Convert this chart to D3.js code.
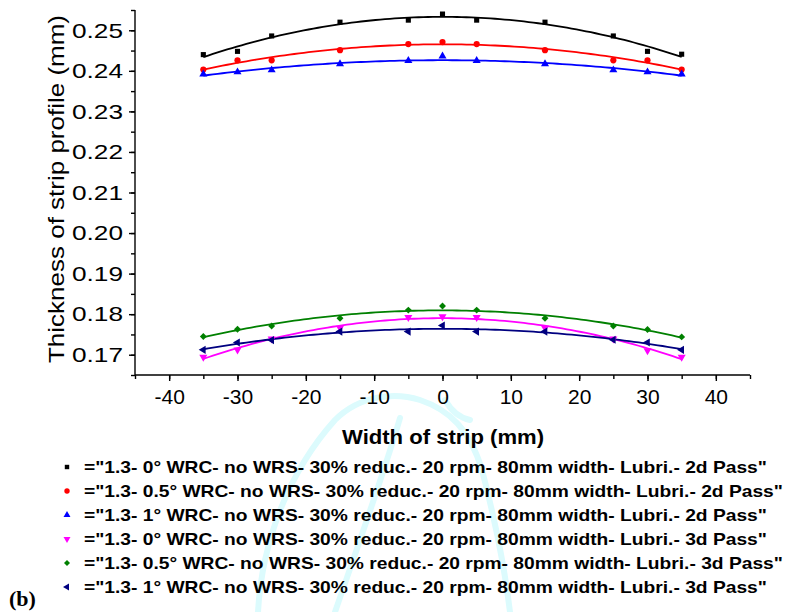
<!DOCTYPE html>
<html><head><meta charset="utf-8">
<script src="https://cdn.jsdelivr.net/npm/d3@7/dist/d3.min.js"></script>
<style>body{margin:0;background:#fff}svg{display:block}</style>
</head><body>
<svg id="chart" width="787" height="612"></svg>
<script>
const widths = [-35, -30, -25, -15, -5, 0, 5, 15, 25, 30, 35];
const s1 = [0.2440, 0.2448, 0.2486, 0.2520, 0.2525, 0.2540, 0.2525, 0.2520, 0.2486, 0.2448, 0.2441];
const s2 = [0.2403, 0.2426, 0.2426, 0.2451, 0.2466, 0.2471, 0.2466, 0.2451, 0.2426, 0.2426, 0.2403];
const s3 = [0.2392, 0.2397, 0.2402, 0.2417, 0.2425, 0.2436, 0.2425, 0.2417, 0.2402, 0.2397, 0.2392];
const s4 = [0.1694, 0.1712, 0.1739, 0.1766, 0.1792, 0.1794, 0.1792, 0.1766, 0.1739, 0.1710, 0.1694];
const s5 = [0.1745, 0.1763, 0.1771, 0.1790, 0.1810, 0.1820, 0.1810, 0.1790, 0.1771, 0.1762, 0.1744];
const s6 = [0.1712, 0.1730, 0.1736, 0.1757, 0.1757, 0.1772, 0.1757, 0.1757, 0.1737, 0.1730, 0.1712];
const seriesNames = [
  '="1.3- 0° WRC- no WRS- 30% reduc.- 20 rpm- 80mm width- Lubri.- 2d Pass"',
  '="1.3- 0.5° WRC- no WRS- 30% reduc.- 20 rpm- 80mm width- Lubri.- 2d Pass"',
  '="1.3- 1° WRC- no WRS- 30% reduc.- 20 rpm- 80mm width- Lubri.- 2d Pass"',
  '="1.3- 0° WRC- no WRS- 30% reduc.- 20 rpm- 80mm width- Lubri.- 3d Pass"',
  '="1.3- 0.5° WRC- no WRS- 30% reduc.- 20 rpm- 80mm width- Lubri.- 3d Pass"',
  '="1.3- 1° WRC- no WRS- 30% reduc.- 20 rpm- 80mm width- Lubri.- 3d Pass"'
];
const xTicks = [-40, -30, -20, -10, 0, 10, 20, 30, 40];
const yTicks = [0.17, 0.18, 0.19, 0.20, 0.21, 0.22, 0.23, 0.24, 0.25];
const xLabel = "Width of strip (mm)";
const yLabel = "Thickness of strip profile (mm)";
const panelLabel = "(b)";

const colors = ["#000000", "#ff0000", "#0000ff", "#ff00ff", "#008000", "#000080"];
const shapes = [
  {t: d3.symbolSquare, r: 0, s: 26},
  {t: d3.symbolCircle, r: 0, s: 30},
  {t: d3.symbolTriangle, r: 0, s: 28},
  {t: d3.symbolTriangle, r: 180, s: 28},
  {t: d3.symbolSquare, r: 45, s: 24},
  {t: d3.symbolTriangle, r: -90, s: 28}
];
const allSeries = [s1, s2, s3, s4, s5, s6];

const svg = d3.select("#chart");
const font = "Liberation Sans, Arial, sans-serif";

function stretch(sel, k) {
  sel.each(function() {
    const w = this.getComputedTextLength();
    d3.select(this).attr("textLength", w * k).attr("lengthAdjust", "spacingAndGlyphs");
  });
}

// faint background watermark
const wm = svg.append("g").attr("fill", "none").attr("stroke", "#dcfbfd").attr("stroke-width", 6).attr("stroke-linecap", "round");
wm.append("path").attr("d", "M258,612 C262,540 290,470 335,420 C360,395 395,392 420,400 C450,410 470,430 482,470 C495,520 505,570 510,612");
wm.append("path").attr("d", "M445,400 C452,412 460,418 470,420");
wm.append("path").attr("d", "M400,418 C385,470 360,540 335,612");

const x = d3.scaleLinear().domain([-45, 45]).range([135, 750]);
const y = d3.scaleLinear().domain([0.165, 0.255]).range([375, 10]);

// axes
const xAxis = svg.append("g").attr("transform", "translate(0,375)");
xAxis.call(d3.axisBottom(x).tickValues(d3.range(-45, 46, 5)).tickSize(4).tickFormat(""))
  .call(g => g.select(".domain").remove());
xAxis.append("g").call(d3.axisBottom(x).tickValues(xTicks).tickSize(6).tickPadding(8).tickFormat(d => d))
  .call(g => g.select(".domain").remove())
  .call(g => g.selectAll("text").attr("font-family", font).attr("font-size", 21).attr("fill", "#000"));
xAxis.append("line").attr("x1", x(-45)).attr("x2", x(45)).attr("stroke", "#000").attr("stroke-width", 1.6);
xAxis.selectAll("line").attr("stroke", "#000").attr("stroke-width", 1.4);

const yAxis = svg.append("g").attr("transform", "translate(135,0)");
yAxis.call(d3.axisLeft(y).tickValues(d3.range(0.165, 0.2551, 0.005)).tickSize(4).tickFormat(""))
  .call(g => g.select(".domain").remove());
yAxis.append("g").call(d3.axisLeft(y).tickValues(yTicks).tickSize(6).tickPadding(6).tickFormat(d3.format(".2f")))
  .call(g => g.select(".domain").remove())
  .call(g => g.selectAll("text").attr("font-family", font).attr("font-size", 21).attr("fill", "#000")
    .attr("textLength", 51).attr("lengthAdjust", "spacingAndGlyphs"));
yAxis.append("line").attr("y1", y(0.165)).attr("y2", y(0.255)).attr("stroke", "#000").attr("stroke-width", 1.6);
yAxis.selectAll("line").attr("stroke", "#000").attr("stroke-width", 1.4);

// labels
svg.append("text").attr("x", 443).attr("y", 444).attr("text-anchor", "middle")
  .attr("font-family", font).attr("font-weight", "bold").attr("font-size", 20)
  .attr("textLength", 202).attr("lengthAdjust", "spacingAndGlyphs").text(xLabel);
svg.append("text").attr("transform", "translate(64,189) rotate(-90)").attr("text-anchor", "middle")
  .attr("font-family", font).attr("font-size", 22)
  .attr("textLength", 348).attr("lengthAdjust", "spacingAndGlyphs").text(yLabel);

// quadratic least-squares fit
function quadFit(xs, ys) {
  let S = [0,0,0,0,0], T = [0,0,0];
  xs.forEach((xv, i) => {
    for (let k = 0; k < 5; k++) S[k] += Math.pow(xv, k);
    for (let k = 0; k < 3; k++) T[k] += ys[i] * Math.pow(xv, k);
  });
  const A = [[S[0],S[1],S[2],T[0]],[S[1],S[2],S[3],T[1]],[S[2],S[3],S[4],T[2]]];
  for (let i = 0; i < 3; i++) {
    for (let j = i + 1; j < 3; j++) {
      const f = A[j][i] / A[i][i];
      for (let k = i; k < 4; k++) A[j][k] -= f * A[i][k];
    }
  }
  const c = [0,0,0];
  for (let i = 2; i >= 0; i--) {
    let s = A[i][3];
    for (let k = i + 1; k < 3; k++) s -= A[i][k] * c[k];
    c[i] = s / A[i][i];
  }
  return xv => c[0] + c[1] * xv + c[2] * xv * xv;
}

const line = d3.line().x(d => x(d[0])).y(d => y(d[1]));
const xmin = d3.min(widths), xmax = d3.max(widths);
const samples = d3.range(0, 101).map(i => xmin + (xmax - xmin) * i / 100);

allSeries.forEach((ser, si) => {
  const f = quadFit(widths, ser);
  svg.append("path").datum(samples.map(xv => [xv, f(xv)]))
    .attr("d", line).attr("fill", "none").attr("stroke", colors[si]).attr("stroke-width", 1.8);
});
allSeries.forEach((ser, si) => {
  const sh = shapes[si];
  svg.append("g").selectAll("path").data(widths.map((w, i) => [w, ser[i]])).join("path")
    .attr("transform", d => `translate(${x(d[0])},${y(d[1])}) rotate(${sh.r})`)
    .attr("d", d3.symbol(sh.t, sh.s)).attr("fill", colors[si]);
});

// legend
const lg = svg.append("g");
seriesNames.forEach((name, i) => {
  const yy = 467 + i * 24;
  const sh = shapes[i];
  lg.append("path").attr("transform", `translate(67,${yy}) rotate(${sh.r})`)
    .attr("d", d3.symbol(sh.t, sh.s * 0.75)).attr("fill", colors[i]);
  lg.append("text").attr("x", 84).attr("y", yy + 6).attr("font-family", font)
    .attr("font-weight", "bold").attr("font-size", 17).attr("fill", "#000").text(name)
    .call(stretch, 1.13);
});

svg.append("text").attr("x", 9).attr("y", 606).attr("font-family", "Liberation Serif, Times New Roman, serif")
  .attr("font-weight", "bold").attr("font-size", 22).text(panelLabel);
</script>
</body></html>
